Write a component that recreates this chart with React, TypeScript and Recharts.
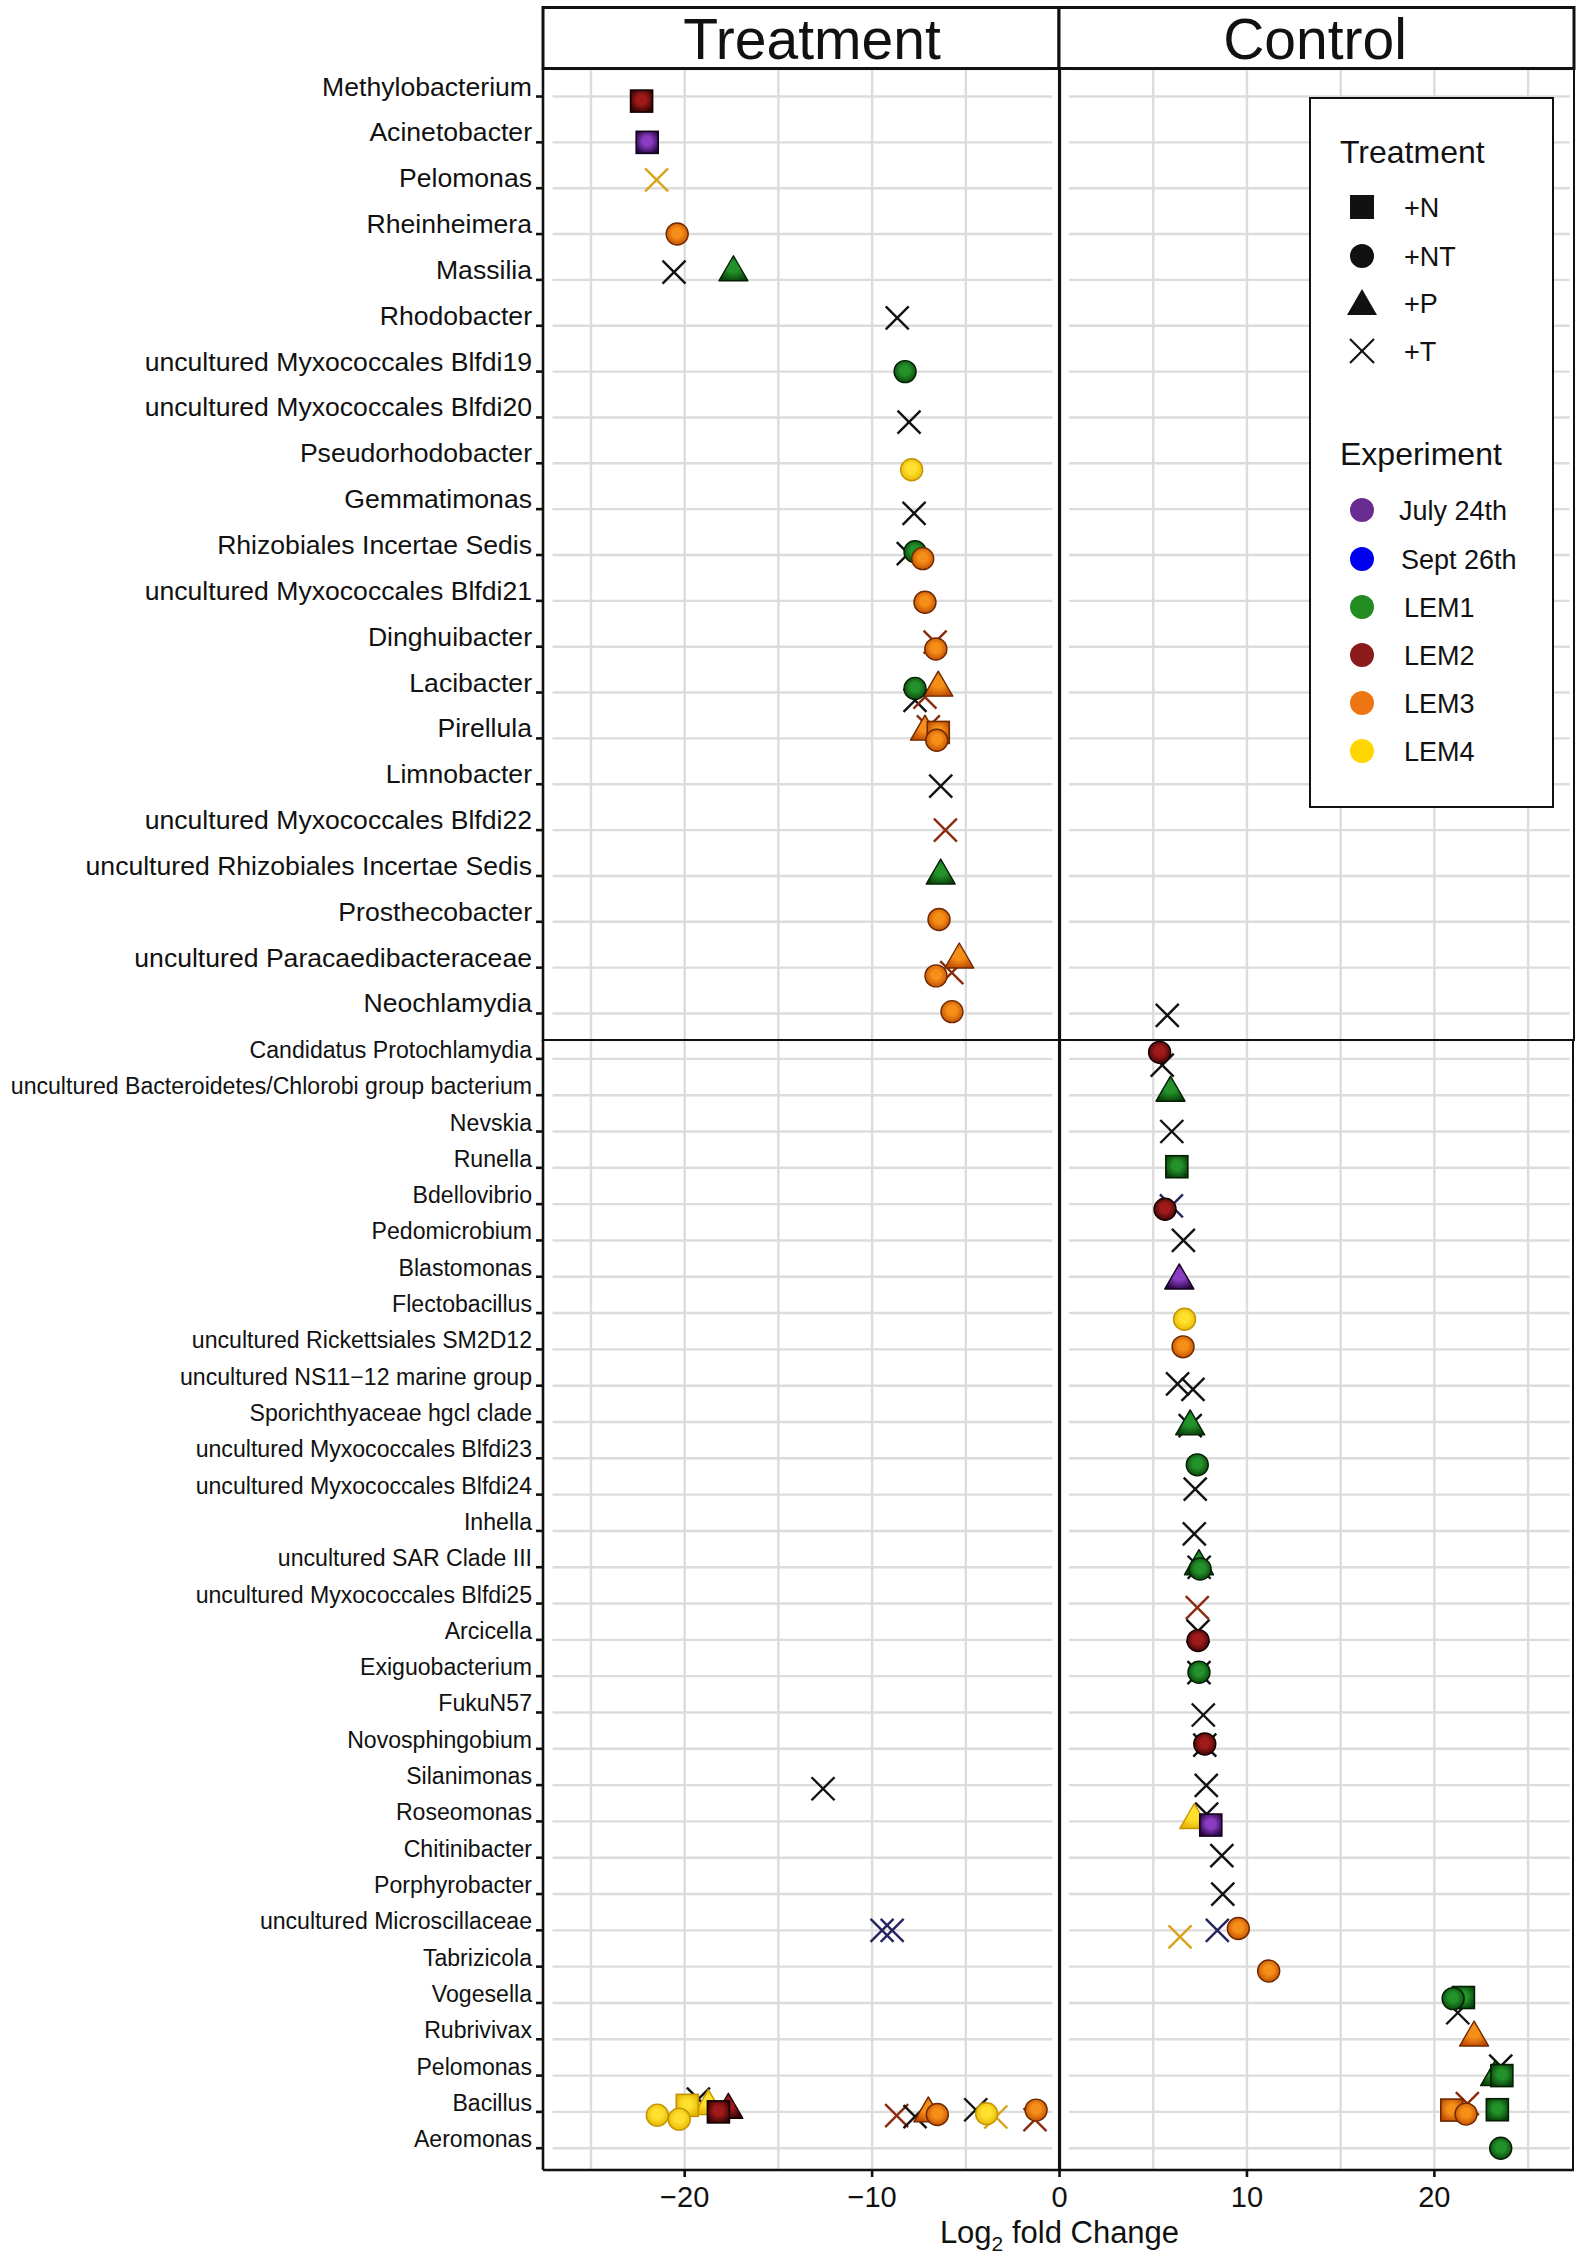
import React from 'react'
import {
  ScatterChart, Scatter, XAxis, YAxis, CartesianGrid, ReferenceLine, ReferenceArea,
} from 'recharts'

const FONT = '"Liberation Sans", Arial, Helvetica, sans-serif'
const GRID = '#dcdcdc'
const INK = '#111'

const topRows = [
  'Methylobacterium', 'Acinetobacter', 'Pelomonas', 'Rheinheimera', 'Massilia', 'Rhodobacter',
  'uncultured Myxococcales Blfdi19', 'uncultured Myxococcales Blfdi20', 'Pseudorhodobacter',
  'Gemmatimonas', 'Rhizobiales Incertae Sedis', 'uncultured Myxococcales Blfdi21', 'Dinghuibacter',
  'Lacibacter', 'Pirellula', 'Limnobacter', 'uncultured Myxococcales Blfdi22',
  'uncultured Rhizobiales Incertae Sedis', 'Prosthecobacter', 'uncultured Paracaedibacteraceae',
  'Neochlamydia',
]

const bottomRows = [
  'Candidatus Protochlamydia', 'uncultured Bacteroidetes/Chlorobi group bacterium', 'Nevskia',
  'Runella', 'Bdellovibrio', 'Pedomicrobium', 'Blastomonas', 'Flectobacillus',
  'uncultured Rickettsiales SM2D12', 'uncultured NS11\u221212 marine group', 'Sporichthyaceae hgcl clade',
  'uncultured Myxococcales Blfdi23', 'uncultured Myxococcales Blfdi24', 'Inhella',
  'uncultured SAR Clade III', 'uncultured Myxococcales Blfdi25', 'Arcicella', 'Exiguobacterium',
  'FukuN57', 'Novosphingobium', 'Silanimonas', 'Roseomonas', 'Chitinibacter', 'Porphyrobacter',
  'uncultured Microscillaceae', 'Tabrizicola', 'Vogesella', 'Rubrivivax', 'Pelomonas', 'Bacillus',
  'Aeromonas',
]

// [row, log2 fold change, experiment, vertical jitter (rows)]
type Pt = [number, number, string, number]

const topN: Pt[] = [
  [0, -22.3, 'LEM2', 0.1], [1, -22.0, 'July 24th', 0], [14, -6.47, 'LEM3', -0.13],
]
const topNT: Pt[] = [
  [3, -20.4, 'LEM3', 0], [6, -8.24, 'LEM1', 0], [8, -7.89, 'LEM4', 0.14],
  [10, -7.71, 'LEM1', -0.07], [10, -7.3, 'LEM3', 0.08], [11, -7.18, 'LEM3', 0.03],
  [12, -6.6, 'LEM3', 0.05], [13, -7.71, 'LEM1', -0.09], [14, -6.55, 'LEM3', 0.04],
  [18, -6.43, 'LEM3', -0.05], [19, -6.59, 'LEM3', 0.18], [20, -5.74, 'LEM3', -0.04],
]
const topP: Pt[] = [
  [4, -17.4, 'LEM1', -0.2], [13, -6.47, 'LEM3', -0.14], [14, -7.18, 'LEM3', -0.18],
  [17, -6.34, 'LEM1', -0.04], [19, -5.35, 'LEM3', -0.21],
]
// +T crosses: third field is the stroke colour group
const topT: Pt[] = [
  [2, -21.5, 'LEM4', -0.18], [4, -20.57, 'black', -0.17], [5, -8.66, 'black', -0.17],
  [7, -8.03, 'black', 0.1], [9, -7.76, 'black', 0.09], [10, -8.07, 'black', -0.03],
  [12, -6.64, 'LEM2', -0.1], [13, -7.71, 'black', 0.17], [13, -7.18, 'LEM2', 0.1],
  [14, -7.0, 'LEM2', -0.25], [15, -6.34, 'black', 0.04], [16, -6.09, 'LEM2', 0],
  [19, -5.75, 'LEM2', 0.11], [20, 5.75, 'black', 0.04],
]

const botN: Pt[] = [
  [3, 6.26, 'LEM1', -0.03], [21, 8.07, 'July 24th', 0.1], [26, 21.55, 'LEM1', -0.15],
  [28, 23.6, 'LEM1', 0], [29, -19.86, 'LEM4', -0.18], [29, -18.2, 'LEM2', 0],
  [29, 20.93, 'LEM3', -0.05], [29, 23.36, 'LEM1', -0.06],
]
const botNT: Pt[] = [
  [0, 5.34, 'LEM2', -0.18], [4, 5.63, 'LEM2', 0.14], [7, 6.67, 'LEM4', 0.17],
  [8, 6.59, 'LEM3', -0.07], [11, 7.35, 'LEM1', 0.18], [14, 7.5, 'LEM1', 0.05],
  [16, 7.39, 'LEM2', 0.02], [17, 7.44, 'LEM1', -0.11], [19, 7.75, 'LEM2', -0.13],
  [24, 9.54, 'LEM3', -0.05], [25, 11.16, 'LEM3', 0.12], [26, 21.0, 'LEM1', -0.12],
  [29, -21.46, 'LEM4', 0.09], [29, -20.29, 'LEM4', 0.2], [29, -6.52, 'LEM3', 0.07],
  [29, -3.89, 'LEM4', 0.05], [29, -1.25, 'LEM3', -0.05], [29, 21.69, 'LEM3', 0.06],
  [30, 23.54, 'LEM1', 0],
]
const botP: Pt[] = [
  [1, 5.92, 'LEM1', -0.11], [6, 6.39, 'July 24th', 0.06], [10, 6.97, 'LEM1', 0.08],
  [14, 7.44, 'LEM1', -0.07], [21, 7.19, 'LEM4', -0.08], [27, 22.12, 'LEM3', -0.09],
  [28, 23.24, 'LEM1', 0], [29, -18.74, 'LEM4', -0.2], [29, -17.67, 'LEM2', -0.1],
  [29, -7.0, 'LEM3', 0],
]
const botT: Pt[] = [
  [0, 5.48, 'black', 0.17], [2, 5.99, 'black', 0], [4, 5.97, 'Sept 26th', 0.05],
  [5, 6.61, 'black', 0], [9, 6.3, 'black', -0.05], [9, 7.12, 'black', 0.1],
  [10, 6.97, 'black', 0.1], [12, 7.24, 'black', -0.15], [13, 7.19, 'black', 0.08],
  [14, 7.45, 'black', 0], [15, 7.35, 'LEM2', 0.11], [16, 7.39, 'black', -0.24],
  [17, 7.44, 'black', -0.1], [18, 7.67, 'black', 0.07], [19, 7.75, 'black', -0.1],
  [20, -12.62, 'black', 0.1], [20, 7.83, 'black', 0.01], [21, 7.85, 'black', -0.2],
  [22, 8.66, 'black', -0.06], [23, 8.71, 'black', 0], [24, -9.47, 'Sept 26th', 0],
  [24, -8.93, 'Sept 26th', 0], [24, 6.43, 'LEM4', 0.18], [24, 8.42, 'Sept 26th', 0],
  [26, 21.25, 'black', 0.27], [28, 23.54, 'black', -0.26], [29, -19.27, 'black', -0.35],
  [29, -8.69, 'LEM2', 0.1], [29, -7.71, 'black', 0.13], [29, -4.47, 'black', -0.06],
  [29, -3.4, 'LEM4', 0.14], [29, -1.31, 'LEM2', 0.21], [29, 21.76, 'LEM2', -0.23],
]

const xTicks = [-20, -10, 0, 10, 20]
const xGrid = [-25, -20, -15, -10, -5, 5, 10, 15, 20, 25]
const X_DOMAIN: [number, number] = [-27.56, 27.45]
// white gaps between the two facets and at the panel edges
const facetGaps: [number, number][] = [[-27.56, -27.05], [-0.38, 0.5], [27.22, 27.45]]

const treatments = ['+N', '+NT', '+P', '+T']
const experiments = ['July 24th', 'Sept 26th', 'LEM1', 'LEM2', 'LEM3', 'LEM4']
const legendColors = ['#6a2c91', '#0000f0', '#228b22', '#8b1a1a', '#ee7612', '#ffd700']

const FILL: Record<string, { hi: string; lo: string; line: string }> = {
  'July 24th': { hi: '#8a3cc2', lo: '#280642', line: '#14031f' },
  'Sept 26th': { hi: '#3030ff', lo: '#000078', line: '#000040' },
  LEM1: { hi: '#23922a', lo: '#093f09', line: '#041f04' },
  LEM2: { hi: '#a11a1a', lo: '#330303', line: '#150000' },
  LEM3: { hi: '#f68f18', lo: '#bd4a00', line: '#6e2800' },
  LEM4: { hi: '#ffe02e', lo: '#e6b200', line: '#c29400' },
}
const XSTROKE: Record<string, string> = {
  black: '#111', LEM2: '#8b2a0c', LEM4: '#d8a31a', 'Sept 26th': '#24245e',
}

const gid = (e: string) => 'grad' + experiments.indexOf(e)
const toData = (pts: Pt[]) => pts.map(([row, lfc, exp, jit]) => ({ x: lfc, y: row + jit, exp }))
const minus = (v: number) => (v < 0 ? '\u2212' + Math.abs(v) : String(v))

function mark(kind: string) {
  return (p: any) => {
    const { cx, cy, payload } = p
    if (!Number.isFinite(cx) || !Number.isFinite(cy)) return <g />
    const e = payload.exp
    if (kind === 'T') {
      const c = XSTROKE[e] || XSTROKE.black
      const h = 11.5
      return (
        <g>
          <line x1={cx - h} y1={cy - h} x2={cx + h} y2={cy + h} stroke={c} strokeWidth={2.4} />
          <line x1={cx - h} y1={cy + h} x2={cx + h} y2={cy - h} stroke={c} strokeWidth={2.4} />
        </g>
      )
    }
    const f = FILL[e]
    const fill = `url(#${gid(e)})`
    if (kind === 'N') {
      return <rect x={cx - 11} y={cy - 11} width={22} height={22} fill={fill} stroke={f.line} strokeWidth={1.6} />
    }
    if (kind === 'NT') {
      return <circle cx={cx} cy={cy} r={11} fill={fill} stroke={f.line} strokeWidth={1.4} />
    }
    return (
      <polygon
        points={`${cx},${cy - 15} ${cx - 14.5},${cy + 10} ${cx + 14.5},${cy + 10}`}
        fill={fill} stroke={f.line} strokeWidth={1.4} strokeLinejoin="round"
      />
    )
  }
}

const RowTick = (props: any) => {
  const { x, y, payload, names, size } = props
  return (
    <text x={x} y={y - 1} textAnchor="end" fontSize={size} fill={INK} fontFamily={FONT}>
      {names[payload.value]}
    </text>
  )
}

function Panel(props: any) {
  const { rows, yDomain, height, top, fontSize, series, showAxis } = props
  return (
    <ScatterChart width={1583} height={height} margin={{ top, right: 9, bottom: 0, left: 0 }}>
      <CartesianGrid vertical={false} stroke={GRID} strokeWidth={2.4} />
      {xGrid.map(v => <ReferenceLine key={v} x={v} stroke={GRID} strokeWidth={2.4} />)}
      {facetGaps.map(([a, b]) => (
        <ReferenceArea key={a} x1={a} x2={b} fill="#fff" fillOpacity={1} stroke="none" />
      ))}
      <ReferenceLine x={0} stroke={INK} strokeWidth={3.2} />
      <XAxis
        type="number" dataKey="x" domain={X_DOMAIN} allowDataOverflow ticks={xTicks}
        hide={!showAxis} height={86} tickFormatter={minus}
        tick={{ fontSize: 29, fill: INK, fontFamily: FONT }}
        tickSize={7} tickMargin={9}
        axisLine={{ stroke: INK, strokeWidth: 2.6 }} tickLine={{ stroke: INK, strokeWidth: 2.6 }}
      />
      <YAxis
        type="number" dataKey="y" domain={yDomain} allowDataOverflow reversed
        ticks={rows.map((_: string, i: number) => i)} interval={0} width={543}
        tick={<RowTick names={rows} size={fontSize} />}
        tickSize={7} tickMargin={4}
        axisLine={{ stroke: INK, strokeWidth: 2.6 }} tickLine={{ stroke: INK, strokeWidth: 2.6 }}
      />
      <Scatter data={series.T} shape={mark('T')} isAnimationActive={false} />
      <Scatter data={series.P} shape={mark('P')} isAnimationActive={false} />
      <Scatter data={series.N} shape={mark('N')} isAnimationActive={false} />
      <Scatter data={series.NT} shape={mark('NT')} isAnimationActive={false} />
    </ScatterChart>
  )
}

function LegendBox() {
  const tY = [110, 159, 206, 254]
  const eY = [413, 462, 510, 558, 606, 654]
  const eX = [90, 92, 95, 95, 95, 95]
  const icon = (i: number, cy: number) => {
    const cx = 53
    if (i === 0) return <rect x={cx - 12} y={cy - 12} width={24} height={24} fill={INK} />
    if (i === 1) return <circle cx={cx} cy={cy} r={12} fill={INK} />
    if (i === 2) return <polygon points={`${cx},${cy - 14} ${cx - 15},${cy + 12} ${cx + 15},${cy + 12}`} fill={INK} />
    return (
      <g stroke={INK} strokeWidth={2.2}>
        <line x1={cx - 12} y1={cy - 12} x2={cx + 12} y2={cy + 12} />
        <line x1={cx - 12} y1={cy + 12} x2={cx + 12} y2={cy - 12} />
      </g>
    )
  }
  return (
    <svg width={245} height={711} style={{ position: 'absolute', left: 1309, top: 97 }} fontFamily={FONT}>
      <rect x={1} y={1} width={243} height={709} fill="#fff" stroke={INK} strokeWidth={2} />
      <text x={31} y={66} fontSize={32} fill={INK}>Treatment</text>
      {treatments.map((t, i) => (
        <g key={t}>
          {icon(i, tY[i])}
          <text x={95} y={tY[i] + 9.5} fontSize={27} fill={INK}>{t}</text>
        </g>
      ))}
      <text x={31} y={368} fontSize={32} fill={INK}>Experiment</text>
      {experiments.map((e, i) => (
        <g key={e}>
          <circle cx={53} cy={eY[i]} r={12} fill={legendColors[i]} />
          <text x={eX[i]} y={eY[i] + 9.5} fontSize={27} fill={INK}>{e}</text>
        </g>
      ))}
    </svg>
  )
}

export default function App() {
  const topSeries = { N: toData(topN), NT: toData(topNT), P: toData(topP), T: toData(topT) }
  const botSeries = { N: toData(botN), NT: toData(botNT), P: toData(botP), T: toData(botT) }

  return (
    <div style={{ position: 'relative', width: 1583, height: 2256, background: '#fff', overflow: 'hidden', fontFamily: FONT }}>
      <style>{'body{margin:0}'}</style>
      <svg width={0} height={0} style={{ position: 'absolute' }}>
        <defs>
          {experiments.map(e => (
            <radialGradient key={e} id={gid(e)} cx="50%" cy="45%" r="60%">
              <stop offset="0%" stopColor={FILL[e].hi} />
              <stop offset="35%" stopColor={FILL[e].hi} />
              <stop offset="100%" stopColor={FILL[e].lo} />
            </radialGradient>
          ))}
        </defs>
      </svg>

      <div style={{ position: 'absolute', left: 0, top: 1040 }}>
        <Panel rows={bottomRows} yDomain={[-0.52, 30.6]} height={1216} top={0} fontSize={23.1} series={botSeries} showAxis />
      </div>
      <div style={{ position: 'absolute', left: 0, top: 0 }}>
        <Panel rows={topRows} yDomain={[-0.6, 20.6]} height={1041} top={69} fontSize={26.6} series={topSeries} showAxis={false} />
      </div>

      {/* panel borders */}
      <div style={{ position: 'absolute', left: 542, top: 68, width: 1033, height: 973, border: `2px solid ${INK}`, boxSizing: 'border-box', pointerEvents: 'none' }} />
      <div style={{ position: 'absolute', left: 1572, top: 1040, width: 2, height: 1130, background: INK }} />

      {/* facet strips */}
      <svg width={1583} height={72} style={{ position: 'absolute', left: 0, top: 0 }} fontFamily={FONT}>
        <rect x={543} y={7.5} width={516} height={61} fill="#fff" stroke={INK} strokeWidth={3} />
        <rect x={1059} y={7.5} width={515} height={61} fill="#fff" stroke={INK} strokeWidth={3} />
        <text x={812} y={59} textAnchor="middle" fontSize={57} fill={INK}>Treatment</text>
        <text x={1315} y={59} textAnchor="middle" fontSize={57} fill={INK}>Control</text>
      </svg>

      <LegendBox />

      {/* x axis title */}
      <svg width={1583} height={56} style={{ position: 'absolute', left: 0, top: 2200 }} fontFamily={FONT}>
        <text x={1059.5} y={43} textAnchor="middle" fontSize={31} fill={INK}>
          Log<tspan fontSize={21} dy={8}>2</tspan><tspan dy={-8}> fold Change</tspan>
        </text>
      </svg>
    </div>
  )
}
